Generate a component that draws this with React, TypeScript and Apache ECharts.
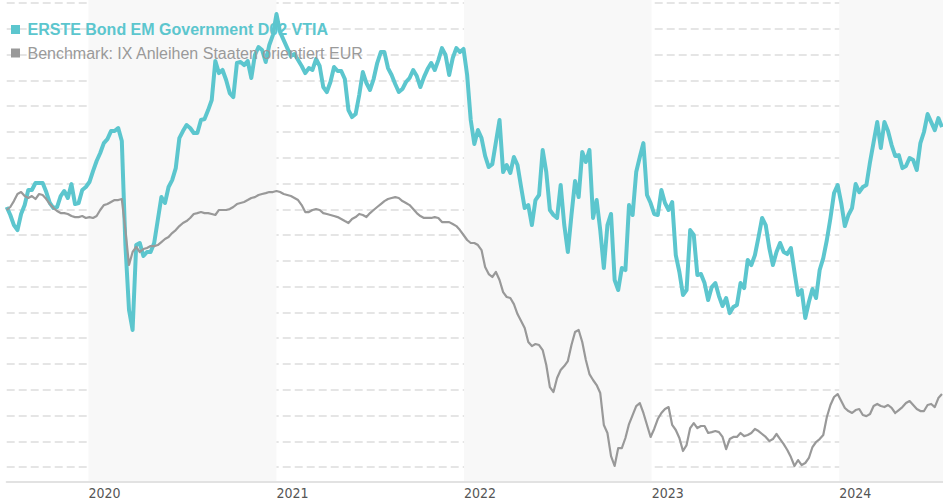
import React, { useEffect, useRef } from "react";
import * as echarts from "echarts";

// Weekly observations, cumulative performance in %
const START = { y: 2019, m: 6, d: 26 }; // 2019-07-26
const STEP_DAYS = 7;
const AXIS_START = { y: 2019, m: 6, d: 26 };
const AXIS_END = { y: 2024, m: 6, d: 21 };
const Y_MIN = -21.13;
const Y_MAX = 16.24;

const fundName = "ERSTE Bond EM Government D02 VTIA";
const benchName = "Benchmark: IX Anleihen Staaten orientiert EUR";

const fundValues = [
  0.18, -0.44, -1.22, -1.61, -0.36, 0.33, 1.5, 1.5, 2.04, 2.04,
  2.04, 1.34, 0.49, 0.1, 0.18, 1.03, 1.42, 0.88, 1.96, 0.41,
  0.49, 1.5, 1.73, 2.12, 2.97, 3.75, 4.37, 5.14, 5.45, 6.07,
  6.07, 6.31, 5.3, -2.77, -7.81, -9.36, -2.77, -2.61, -3.62, -3.31,
  -3.31, -2.61, -0.83, 0.95, 0.49, 1.73, 2.27, 3.2, 5.53, 6.07,
  6.54, 6.31, 5.92, 5.92, 6.93, 7.01, 7.7, 8.48, 11.51, 10.57,
  10.81, 10.03, 9.02, 8.71, 11.35, 11.43, 11.19, 11.51, 10.19, 11.97,
  12.59, 12.36, 11.43, 12.75, 13.52, 15.15, 13.75, 13.13, 12.51, 11.89,
  12.05, 11.58, 11.12, 10.57, 10.96, 10.81, 11.66, 11.12, 9.49, 9.1,
  9.88, 11.04, 10.73, 10.73, 10.11, 7.7, 7.16, 7.39, 8.87, 10.65,
  9.8, 9.26, 10.11, 11.35, 12.2, 12.2, 10.96, 10.42, 9.72, 9.1,
  9.33, 9.88, 10.19, 10.81, 10.34, 9.49, 10.26, 10.88, 11.35, 10.81,
  11.58, 12.51, 11.97, 10.42, 11.74, 12.51, 12.2, 12.44, 10.42, 6.93,
  5.07, 6.15, 5.53, 4.14, 3.28, 3.51, 5.22, 6.93, 2.89, 3.44,
  2.82, 4.06, 3.44, 1.73, 0.1, 0.33, -1.22, 0.72, 1.11, 4.6,
  2.89, -0.05, -0.44, -0.67, 1.89, -1.22, -3.31, -0.44, 2.2, 0.95,
  4.45, 3.67, 4.6, -0.67, 0.72, -1.61, -4.55, -1.22, -0.36, -5.48,
  -6.26, -4.55, -4.71, 0.33, -0.44, 2.89, 4.06, 5.14, 1.11, 0.49,
  -0.36, -0.44, 1.5, 0.49, -0.05, 0.57, -3.55, -4.86, -6.65, -6.26,
  -1.61, -1.99, -5.1, -5.02, -5.72, -7.04, -6.03, -5.72, -6.73, -7.5,
  -6.88, -8.05, -7.58, -7.42, -5.72, -6.11, -3.93, -4.32, -3.55, -2.15,
  -0.67, -1.22, -3.0, -4.32, -3.31, -2.61, -3.31, -3.47, -3.0, -4.86,
  -6.65, -6.26, -8.43, -7.19, -6.18, -6.88, -4.71, -3.78, -2.38, -0.67,
  1.26, 1.89, 0.49, -1.3, -0.44, 0.1, 1.96, 1.34, 1.73, 1.89,
  3.67, 5.22, 6.77, 4.76, 6.77, 6.07, 4.99, 4.14, 4.21, 3.2,
  3.36, 3.98, 3.82, 3.05, 5.14, 6.0, 7.39, 6.77, 6.15, 7.08,
  6.38,
];

const benchValues = [
  -0.05, 0.18, 0.64, 1.19, 1.34, 1.03, 0.88, 1.03, 0.8, 1.19,
  1.11, 0.8, 0.41, 0.1, -0.13, -0.29, -0.29, -0.36, -0.52, -0.6,
  -0.6, -0.52, -0.67, -0.6, -0.67, -0.52, -0.05, 0.33, 0.41, 0.57,
  0.72, 0.72, 0.8, -1.61, -4.32, -3.31, -2.92, -3.31, -3.08, -3.0,
  -2.85, -2.85, -2.77, -2.54, -2.3, -2.15, -1.84, -1.61, -1.3, -1.06,
  -0.91, -0.67, -0.36, -0.29, -0.21, -0.29, -0.29, -0.36, -0.44, -0.05,
  -0.05, -0.05, 0.02, 0.18, 0.41, 0.49, 0.57, 0.72, 0.88, 0.95,
  1.11, 1.19, 1.26, 1.34, 1.34, 1.42, 1.34, 1.19, 1.11, 1.03,
  0.88, 0.72, 0.33, -0.21, -0.21, -0.05, 0.02, -0.05, -0.29, -0.36,
  -0.44, -0.52, -0.6, -0.75, -0.91, -1.06, -0.75, -0.6, -0.36, -0.44,
  -0.6, -0.29, -0.05, 0.18, 0.41, 0.64, 0.8, 0.88, 0.95, 0.88,
  0.64, 0.49, 0.33, 0.02, -0.29, -0.52, -0.67, -0.67, -0.67, -0.6,
  -0.67, -0.99, -0.99, -0.99, -1.14, -1.3, -1.61, -1.99, -2.38, -2.61,
  -2.61, -2.77, -3.16, -4.48, -5.02, -5.25, -4.86, -5.48, -6.42, -6.8,
  -6.88, -7.35, -8.12, -8.67, -9.21, -10.29, -10.61, -10.45, -10.53, -10.92,
  -12.08, -13.79, -14.17, -13.09, -12.47, -12.16, -11.77, -10.53, -9.52, -9.36,
  -10.29, -11.69, -12.78, -13.24, -13.63, -14.25, -16.73, -17.35, -19.14, -19.91,
  -18.52, -18.52, -17.74, -16.66, -15.96, -15.26, -15.03, -15.8, -16.73, -17.66,
  -17.04, -16.27, -15.8, -15.49, -15.34, -16.73, -17.12, -17.74, -18.75, -18.29,
  -16.97, -16.58, -16.97, -16.81, -16.81, -17.35, -17.28, -17.2, -17.28, -17.66,
  -18.6, -17.82, -17.66, -17.66, -17.35, -17.59, -17.51, -17.35, -17.04, -17.2,
  -17.43, -17.66, -17.98, -17.82, -17.43, -17.82, -18.21, -18.67, -19.22, -19.91,
  -19.45, -19.84, -19.68, -19.29, -18.44, -18.05, -17.82, -17.51, -16.11, -15.18,
  -14.56, -14.33, -14.87, -15.41, -15.65, -15.8, -15.57, -15.49, -15.96, -16.04,
  -15.88, -15.26, -15.1, -15.26, -15.34, -15.18, -15.41, -15.8, -15.57, -15.34,
  -15.03, -14.87, -15.18, -15.49, -15.65, -15.65, -15.18, -15.1, -15.34, -14.64,
  -14.33,
];

const FUND_COLOR = "#5cc6ce";
const BENCH_COLOR = "#999999";

function toSeries(values: number[]) {
  const start = new Date(START.y, START.m, START.d);
  return values.map((v, i) => {
    const d = new Date(start);
    d.setDate(d.getDate() + i * STEP_DAYS);
    return [d.getTime(), v];
  });
}

export default function App() {
  const ref = useRef<HTMLDivElement>(null);
  useEffect(() => {
    if (!ref.current) return;
    const chart = echarts.init(ref.current, undefined, { renderer: "svg" });
    const font = "'Liberation Sans', Arial, sans-serif";
    chart.setOption({
      animation: false,
      backgroundColor: "#ffffff",
      grid: { left: 6.7, right: 0, top: 0, bottom: 18.3, containLabel: false },
      legend: {
        orient: "vertical",
        left: 6,
        top: 16.5,
        itemWidth: 9,
        itemHeight: 9,
        itemGap: 7.5,
        icon: "rect",
        selectedMode: false,
        textStyle: {
          fontFamily: font,
          fontSize: 16,
          lineHeight: 16,
          padding: [0, 0, 0, 2.5],
        },
        data: [
          {
            name: fundName,
            textStyle: { color: FUND_COLOR, fontWeight: "bold" },
          },
          {
            name: benchName,
            textStyle: { color: "#9a9a9a", fontWeight: "normal" },
          },
        ],
      },
      xAxis: {
        type: "time",
        min: new Date(AXIS_START.y, AXIS_START.m, AXIS_START.d).getTime(),
        max: new Date(AXIS_END.y, AXIS_END.m, AXIS_END.d).getTime(),
        minInterval: 365 * 24 * 3600 * 1000,
        splitNumber: 5,
        axisLine: {
          show: true,
          onZero: false,
          lineStyle: { color: "#e2e2e2", width: 2 },
        },
        axisTick: { show: false },
        axisLabel: {
          show: true,
          showMinLabel: false,
          showMaxLabel: false,
          align: "left",
          margin: 4,
          color: "#555555",
          fontFamily: "'DejaVu Sans Condensed', 'DejaVu Sans', sans-serif",
          fontSize: 14,
          formatter: (val: number) => String(new Date(val).getFullYear()),
        },
        splitLine: { show: false },
        splitArea: {
          show: true,
          areaStyle: { color: ["rgba(255,255,255,0)", "#f8f8f8"] },
        },
      },
      yAxis: {
        type: "value",
        min: Y_MIN,
        max: Y_MAX,
        splitNumber: 18,
        axisLine: { show: false },
        axisTick: { show: false },
        axisLabel: { show: false },
        splitLine: {
          show: true,
          showMinLine: false,
          showMaxLine: false,
          lineStyle: { color: "#dddddd", width: 1.5, type: [8, 4] },
        },
      },
      series: [
        {
          name: fundName,
          type: "line",
          data: toSeries(fundValues),
          showSymbol: false,
          symbol: "none",
          color: FUND_COLOR,
          lineStyle: { color: FUND_COLOR, width: 4, join: "round" },
        },
        {
          name: benchName,
          type: "line",
          data: toSeries(benchValues),
          showSymbol: false,
          symbol: "none",
          color: BENCH_COLOR,
          lineStyle: { color: BENCH_COLOR, width: 2.2, join: "round" },
        },
      ],
    });
    return () => chart.dispose();
  }, []);
  return (
    <div
      ref={ref}
      style={{ position: "fixed", left: 0, top: 0, width: 943, height: 500 }}
    />
  );
}
